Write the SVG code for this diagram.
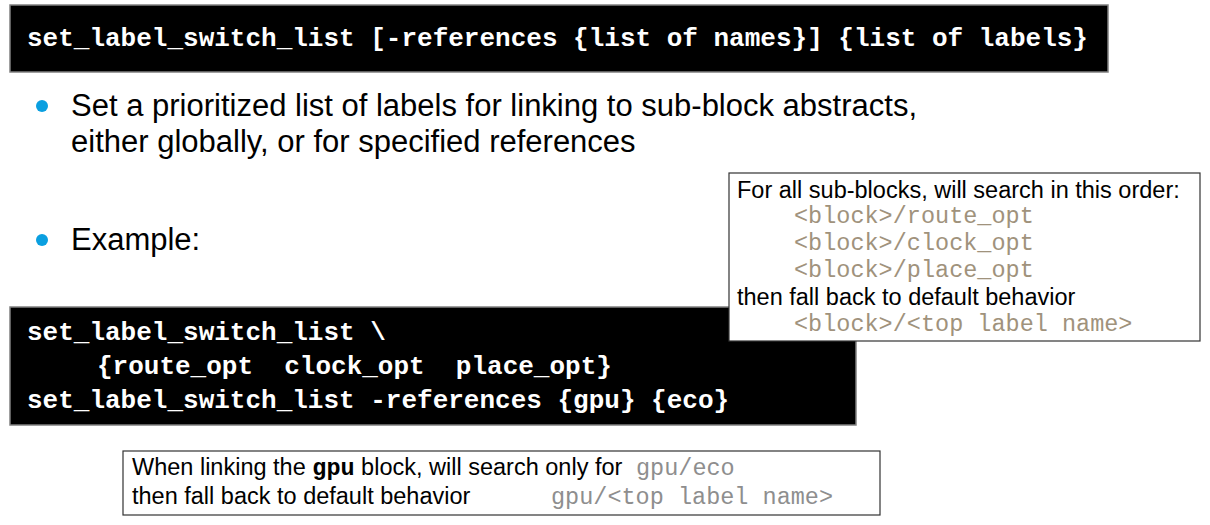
<svg xmlns="http://www.w3.org/2000/svg" width="1210" height="525" viewBox="0 0 1210 525">
<style>
.code{font-family:"Liberation Mono","Courier New",monospace;font-weight:bold;font-size:26px;fill:#ffffff;white-space:pre}
.sans{font-family:"Liberation Sans",Arial,sans-serif;fill:#000000}
.big{font-size:31px}
.note{font-size:23.5px}
.mono{font-family:"Liberation Mono","Courier New",monospace;font-size:23.5px;white-space:pre}
.bar{fill:#000000;stroke:#808080;stroke-width:1.5}
.box{fill:#ffffff;stroke:#333333;stroke-width:1.2}
.dot{fill:#0a9fe0}
</style>
<rect width="1210" height="525" fill="#ffffff"/>
<g id="header">
<rect class="bar" x="10" y="5" width="1098" height="67"/>
<text class="code" x="27" y="46">set_label_switch_list [-references {list of names}] {list of labels}</text>
</g>
<g id="bullets">
<circle class="dot" cx="42" cy="106" r="6"/>
<text class="sans big" x="71" y="116">Set a prioritized list of labels for linking to sub-block abstracts,</text>
<text class="sans big" x="71" y="152">either globally, or for specified references</text>
<circle class="dot" cx="42" cy="240" r="6"/>
<text class="sans big" x="71" y="250">Example:</text>
</g>
<g id="example-code">
<rect class="bar" x="10" y="307" width="846" height="118"/>
<text class="code" x="27" y="340">set_label_switch_list \</text>
<text class="code" x="97" y="374">{route_opt  clock_opt  place_opt}</text>
<text class="code" x="27" y="408">set_label_switch_list -references {gpu} {eco}</text>
</g>
<g id="global-note">
<rect class="box" x="729" y="173" width="471" height="168"/>
<text class="sans note" x="737" y="198">For all sub-blocks, will search in this order:</text>
<text class="mono" x="794" y="223" fill="#a0927c">&lt;block&gt;/route_opt</text>
<text class="mono" x="794" y="250" fill="#a0927c">&lt;block&gt;/clock_opt</text>
<text class="mono" x="794" y="277" fill="#a0927c">&lt;block&gt;/place_opt</text>
<text class="sans note" x="737" y="305">then fall back to default behavior</text>
<text class="mono" x="794" y="331" fill="#a0927c">&lt;block&gt;/&lt;top label name&gt;</text>
</g>
<g id="gpu-note">
<rect class="box" x="123" y="451" width="757" height="64"/>
<text class="sans note" x="132" y="475">When linking the <tspan font-family="Liberation Mono,Courier New,monospace" font-weight="bold">gpu</tspan> block, will search only for</text>
<text class="mono" x="636" y="475" fill="#8e8e8e">gpu/eco</text>
<text class="sans note" x="132" y="504">then fall back to default behavior</text>
<text class="mono" x="551" y="504" fill="#8e8e8e">gpu/&lt;top label name&gt;</text>
</g>
</svg>
